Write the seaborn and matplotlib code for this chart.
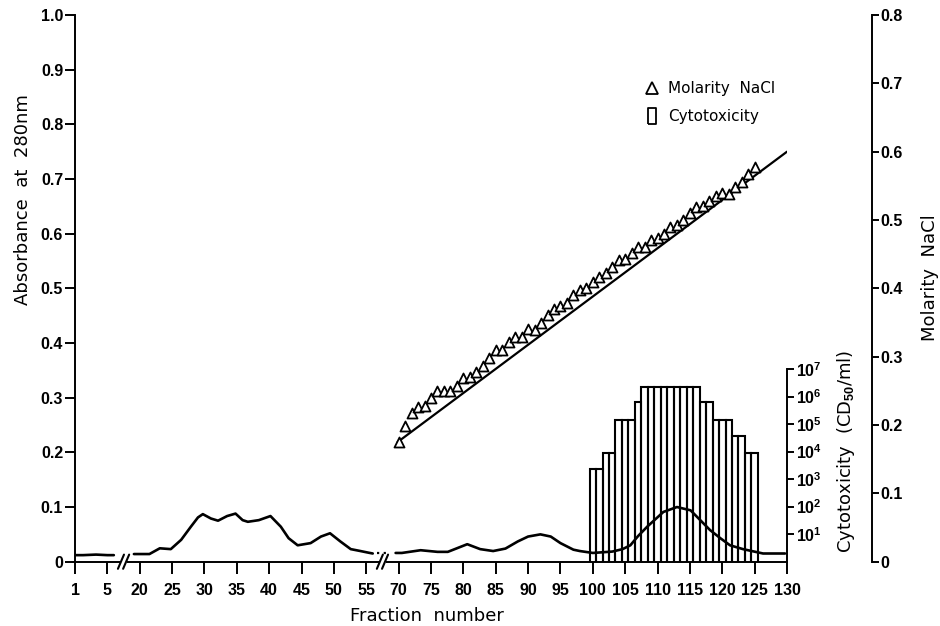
import numpy as np
import pandas as pd
import matplotlib
matplotlib.use("Agg")
import matplotlib.pyplot as plt
import seaborn as sns
from matplotlib.lines import Line2D

# ---------------- data ----------------
# Absorbance at 280 nm (left axis), three drawn segments of the broken axis
abs_seg1_x = [1, 2, 3.6, 5, 6.5, 8]
abs_seg1_y = [0.012, 0.012, 0.013, 0.012, 0.012, 0.012]
abs_seg2_x = [17.3, 20, 21.5, 23.1, 24.8, 26.4, 27.9, 29.0, 29.75, 31.0, 32.1, 33.5,
              34.8, 35.9, 36.7, 38.4, 40.2, 41.8, 43.0, 44.4, 46.4, 48.0, 49.4, 51.0,
              52.6, 54.1, 56.0, 58.0]
abs_seg2_y = [0.014, 0.014, 0.014, 0.0245, 0.023, 0.040, 0.064, 0.081, 0.087, 0.079,
              0.075, 0.0835, 0.088, 0.076, 0.073, 0.076, 0.0835, 0.064, 0.043, 0.030,
              0.034, 0.046, 0.052, 0.037, 0.023, 0.0195, 0.0165, 0.015]
abs_seg3_x = [68.6, 70.5, 73.4, 76, 77.6, 79.1, 80.6, 82.6, 84.6, 86.5, 88.4, 90, 91.9,
              93.5, 95, 97, 98, 100, 103, 104.6, 105.8, 107, 108.4, 110.9, 113, 115.1,
              116.6, 118.1, 119.7, 121.2, 123.2, 126.3, 129.7]
abs_seg3_y = [0.016, 0.016, 0.021, 0.018, 0.018, 0.025, 0.032, 0.023, 0.0195, 0.024,
              0.037, 0.046, 0.050, 0.046, 0.034, 0.022, 0.0195, 0.016, 0.0185, 0.023,
              0.030, 0.047, 0.064, 0.091, 0.100, 0.094, 0.076, 0.058, 0.043, 0.030,
              0.023, 0.015, 0.015]
abs_gap_x = [60, 66]
abs_gap_y = [0.016, 0.016]

# Molarity NaCl (right axis)
mol_frac = list(range(70, 126))
mol_vals = [0.175, 0.199, 0.218, 0.227, 0.228, 0.240, 0.250, 0.250, 0.250, 0.257,
            0.269, 0.270, 0.278, 0.287, 0.298, 0.310, 0.310, 0.322, 0.329, 0.329,
            0.341, 0.339, 0.349, 0.361, 0.370, 0.374, 0.379, 0.390, 0.398, 0.401,
            0.409, 0.417, 0.423, 0.431, 0.442, 0.443, 0.452, 0.461, 0.461, 0.471,
            0.474, 0.480, 0.490, 0.493, 0.500, 0.510, 0.519, 0.520, 0.528, 0.535,
            0.539, 0.538, 0.548, 0.556, 0.567, 0.577]
grad_x = [69.5, 130]
grad_y = [0.175, 0.600]

# Cytotoxicity (CD50/ml), one bar per fraction
cyto_frac = list(range(100, 126))
cyto_vals = [2300, 2300, 9000, 9000, 1.4e5, 1.4e5, 1.4e5, 6.3e5,
             2.2e6, 2.2e6, 2.2e6, 2.2e6, 2.2e6, 2.2e6, 2.2e6, 2.2e6, 2.2e6,
             6.3e5, 6.3e5, 1.4e5, 1.4e5, 1.4e5, 3.7e4, 3.7e4, 9000, 9000]

x_ticks = [1, 5, 20, 25, 30, 35, 40, 45, 50, 55, 70, 75, 80, 85, 90, 95, 100,
           105, 110, 115, 120, 125, 130]
x_minor = list(range(101, 130))
abs_ticks = [0, 0.1, 0.2, 0.3, 0.4, 0.5, 0.6, 0.7, 0.8, 0.9, 1.0]
abs_labels = ["0", "0.1", "0.2", "0.3", "0.4", "0.5", "0.6", "0.7", "0.8", "0.9", "1.0"]
mol_ticks = [0, 0.1, 0.2, 0.3, 0.4, 0.5, 0.6, 0.7, 0.8]
mol_labels = ["0", "0.1", "0.2", "0.3", "0.4", "0.5", "0.6", "0.7", "0.8"]
cyto_ticks = [1e1, 1e2, 1e3, 1e4, 1e5, 1e6, 1e7]
breaks_at = [12.5, 62.5]

# broken axis: piecewise-linear scale
BRK_F = [1, 5, 20, 55, 70, 130]
BRK_P = [0, 1, 2, 9, 10, 22]


def fwd(x):
    x = np.asarray(x, dtype=float)
    return np.where(x < 1, (x - 1) / 4.0,
                    np.where(x > 130, 22 + (x - 130) / 5.0, np.interp(x, BRK_F, BRK_P)))


def inv(p):
    p = np.asarray(p, dtype=float)
    return np.where(p < 0, 1 + p * 4.0,
                    np.where(p > 22, 130 + (p - 22) * 5.0, np.interp(p, BRK_P, BRK_F)))


# ---------------- style ----------------
sns.set_style("ticks")
plt.rcParams["font.family"] = ["DejaVu Sans"]
plt.rcParams["mathtext.fontset"] = "custom"
plt.rcParams["mathtext.rm"] = "Liberation Sans:bold"
plt.rcParams["mathtext.it"] = "Liberation Sans:bold"
plt.rcParams["mathtext.bf"] = "Liberation Sans:bold"
plt.rcParams["axes.linewidth"] = 1.4
for key in ("text.color", "axes.labelcolor", "xtick.color", "ytick.color",
            "axes.edgecolor"):
    plt.rcParams[key] = "black"

TICK_FONT = dict(family="Liberation Sans", weight="bold", size=11.5)
FS_LAB = 13

fig = plt.figure(figsize=(9.4, 6.26), dpi=100, facecolor="white")
W, H = 940.0, 626.0
x0, x1 = 75.0, 787.0
y0, ytop = 561.7, 15.0
ax = fig.add_axes([x0 / W, (H - y0) / H, (x1 - x0) / W, (y0 - ytop) / H])
ax.set_xscale("function", functions=(fwd, inv))
ax.set_facecolor("none")

# absorbance curve
abs_df = pd.DataFrame({
    "frac": abs_seg1_x + abs_seg2_x + abs_seg3_x,
    "absorb": abs_seg1_y + abs_seg2_y + abs_seg3_y,
    "seg": [1] * len(abs_seg1_x) + [2] * len(abs_seg2_x) + [3] * len(abs_seg3_x),
})
sns.lineplot(data=abs_df, x="frac", y="absorb", units="seg", estimator=None,
             sort=False, color="black", lw=1.9, ax=ax, legend=False)
sns.lineplot(x=abs_gap_x, y=abs_gap_y, color="black", lw=1.6, ls=(0, (1, 2)), ax=ax)

ax.set_xlim(1, 130)
ax.set_ylim(0, 1.0)
ax.spines["top"].set_visible(False)
ax.spines["right"].set_visible(False)
ax.set_xticks(x_ticks)
ax.set_xticklabels([str(t) for t in x_ticks], fontdict=TICK_FONT)
ax.set_xticks(x_minor, minor=True)
ax.set_yticks(abs_ticks)
ax.set_yticklabels(abs_labels, fontdict=TICK_FONT)
ax.tick_params(axis="x", which="major", direction="out", length=8.5, width=1.4, pad=6.5)
ax.tick_params(axis="x", which="minor", direction="out", length=5, width=1.2)
ax.tick_params(axis="y", which="major", direction="out", length=7, width=1.4, pad=1.5)
ax.set_xlabel("Fraction  number", fontsize=FS_LAB)
ax.set_ylabel("Absorbance  at  280nm", fontsize=FS_LAB)
ax.xaxis.set_label_coords(0.494, -0.083)
ax.yaxis.set_label_coords(-0.073, 0.662)
ax.yaxis.label.set_va("center")

# axis break marks
xtr = ax.get_xaxis_transform()
for b in breaks_at:
    ax.plot([b - 1.5, b + 1.5], [0, 0], transform=xtr, color="white", lw=4,
            clip_on=False, zorder=5, solid_capstyle="butt")
    for c in (b - 1.2, b + 1.2):
        ax.plot([c - 1.4, c + 1.4], [-0.013, 0.013], transform=xtr, color="black",
                lw=1.5, clip_on=False, zorder=6)

# molarity axis (right, offset)
ax2 = ax.twinx()
ax2.set_facecolor("none")
for s in ("top", "left", "bottom"):
    ax2.spines[s].set_visible(False)
ax2.spines["right"].set_position(("outward", 61))
sns.lineplot(x=grad_x, y=grad_y, color="black", lw=1.6, ax=ax2)
sns.scatterplot(x=mol_frac, y=mol_vals, marker="^", s=52, color="white",
                edgecolor="black", linewidth=1.3, ax=ax2, zorder=4, legend=False)
ax2.set_ylim(0, 0.8)
ax2.set_yticks(mol_ticks)
ax2.set_yticklabels(mol_labels, fontdict=TICK_FONT)
ax2.tick_params(axis="y", direction="out", length=5, width=1.4, pad=1.5)
ax2.set_ylabel("Molarity  NaCl", fontsize=FS_LAB, rotation=90)
ax2.yaxis.set_label_coords((930 - x0) / (x1 - x0), 0.52)
ax2.yaxis.label.set_va("center")
ax2.yaxis.label.set_ha("center")

# cytotoxicity axis (log, inner right)
yc_top = 369.0
ax3 = fig.add_axes([x0 / W, (H - y0) / H, (x1 - x0) / W, (y0 - yc_top) / H], sharex=ax)
ax3.set_facecolor("none")
ax3.set_yscale("log")
for s in ("top", "left", "bottom"):
    ax3.spines[s].set_visible(False)
sns.barplot(x=cyto_frac, y=cyto_vals, native_scale=True, width=1, fill=False,
            color="black", linewidth=1.5, errorbar=None, ax=ax3)
ax3.set_xlim(1, 130)
ax3.set_ylim(1, 1e7)
ax3.yaxis.set_ticks_position("right")
ax3.yaxis.set_label_position("right")
ax3.set_yticks(cyto_ticks)
ax3.set_yticklabels([r"$10^{%d}$" % int(np.log10(t)) for t in cyto_ticks],
                    fontdict=dict(size=11.5))
ax3.minorticks_off()
ax3.tick_params(axis="x", which="both", bottom=False, labelbottom=False)
ax3.tick_params(axis="y", which="both", direction="out", length=5, width=1.4, pad=1.5)
ax3.set_xlabel("")
ax3.set_ylabel(r"Cytotoxicity  (CD$_{50}$/ml)", fontsize=FS_LAB)
ax3.yaxis.set_label_coords((846 - x0) / (x1 - x0), (y0 - 451) / (y0 - yc_top))
ax3.yaxis.label.set_va("center")
ax3.yaxis.label.set_ha("center")

# legend
h_tri = Line2D([], [], ls="none", marker="^", markersize=8, mfc="white",
               mec="black", mew=1.3)
rect_verts = [(-0.5, -1.0), (0.5, -1.0), (0.5, 1.0), (-0.5, 1.0), (-0.5, -1.0)]
h_rect = Line2D([], [], ls="none", marker=rect_verts, markersize=11, mfc="white",
                mec="black", mew=1.3)
fig.legend([h_tri, h_rect], ["Molarity  NaCl", "Cytotoxicity"],
           loc="upper left", bbox_to_anchor=(644 / W, 1 - 81 / H), frameon=False,
           fontsize=11, handlelength=1.0, handletextpad=0.6, labelspacing=0.85,
           borderaxespad=0, borderpad=0)

fig.savefig("out.png", dpi=100, facecolor="white")
